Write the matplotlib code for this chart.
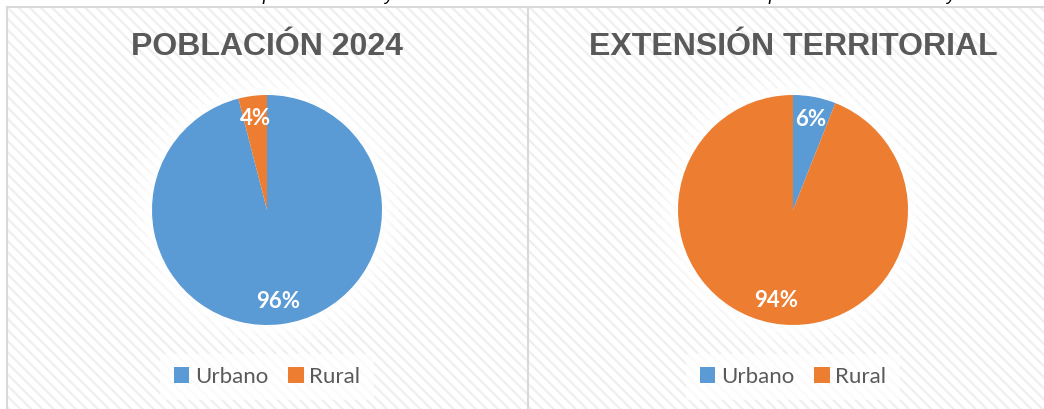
import numpy as np
import matplotlib.pyplot as plt
from matplotlib.patches import Rectangle, Circle

# datos
categorias = ["Urbano", "Rural"]
poblacion_2024 = [96, 4]
extension_territorial = [6, 94]
titulos = ["POBLACIÓN 2024", "EXTENSIÓN TERRITORIAL"]
colores = ["#5B9BD5", "#ED7D31"]

W, H = 1044, 409
plt.rcParams['hatch.linewidth'] = 1.6

fig = plt.figure(figsize=(W / 100, H / 100), dpi=100)

# fondo en pixeles (origen arriba a la izquierda)
bg = fig.add_axes([0, 0, 1, 1])
bg.set_xlim(0, W)
bg.set_ylim(H, 0)
bg.axis("off")
bg.add_patch(Rectangle((7, 7), W, H, facecolor="white", edgecolor="#efefef",
                       hatch="\\\\\\", linewidth=0))
bg.plot([7, W], [6.5, 6.5], color="#d9d9d9", lw=1.5)
bg.plot([6.5, 6.5], [7, H], color="#d9d9d9", lw=1.5)
bg.plot([527.5, 527.5], [7, H], color="#d9d9d9", lw=1.5)

# restos del texto cortado arriba
for x, t in [(262, "p"), (384, "y"), (768, "p"), (946, "y")]:
    bg.text(x, 0.5, t, fontsize=13, style="italic", color="black",
            va="baseline", ha="left", family="Liberation Sans", clip_on=True)

centros = [267, 793]
radio = 115
cy = 210

for cx, valores, titulo in zip(centros, [poblacion_2024, extension_territorial], titulos):
    # halo blanco alrededor de la torta
    for k, a in [(1.22, 0.25), (1.14, 0.35), (1.07, 0.5)]:
        bg.add_patch(Circle((cx, cy), radio * k, facecolor="white", edgecolor="none", alpha=a))
    bg.text(cx, 47, titulo, ha="center", va="center", fontsize=23, fontweight="bold",
            color="#595959", family="Liberation Sans")

    ax = fig.add_axes([(cx - radio) / W, (H - cy - radio) / H, 2 * radio / W, 2 * radio / H])
    wedges, textos, pcts = ax.pie(valores, colors=colores, startangle=90, counterclock=False,
                                  autopct="%1.0f%%", pctdistance=0.8, radius=1,
                                  wedgeprops=dict(linewidth=0))
    for p in pcts:
        p.set_color("white")
        p.set_fontsize(16)
        p.set_fontweight("bold")
        p.set_family("Lato")
    ax.set_xlim(-1, 1)
    ax.set_ylim(-1, 1)
    ax.set_aspect("equal")
    ax.axis("off")

    leg = fig.legend(wedges, categorias, loc="center", bbox_to_anchor=(cx / W, (H - 377) / H),
                     ncol=2, frameon=True, fancybox=False, handlelength=0.7, handleheight=0.7,
                     handletextpad=0.25, columnspacing=0.9, borderpad=0.6,
                     prop={"family": "Lato", "size": 16})
    leg.get_frame().set_facecolor("white")
    leg.get_frame().set_edgecolor("none")
    leg.get_frame().set_alpha(0.7)
    for t in leg.get_texts():
        t.set_color("#595959")

fig.savefig("out.png", dpi=100)
